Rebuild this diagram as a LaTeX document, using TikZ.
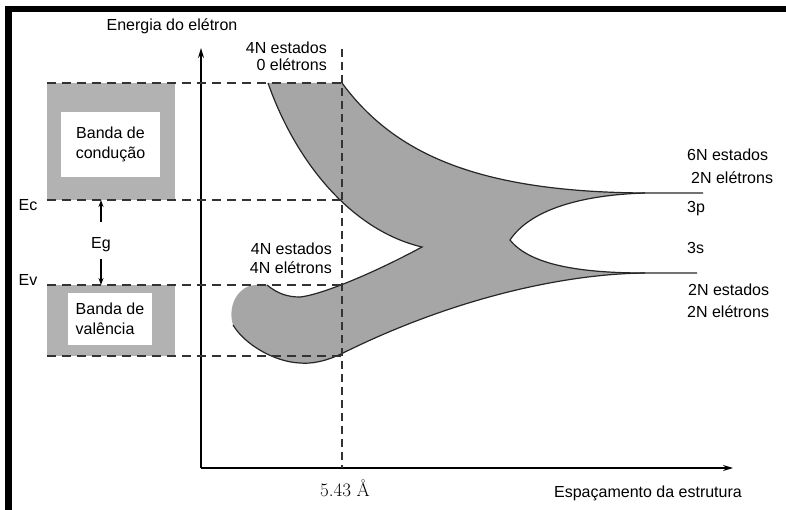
\documentclass[tikz,border=0pt]{standalone}
\usepackage{fontspec}
\newfontfamily\arial{Liberation Sans}
\usetikzlibrary{arrows.meta}

\begin{document}
\begin{tikzpicture}[x=1pt,y=-1pt]
   \tikzset{lbl/.style={font=\arial\fontsize{16}{20}\selectfont, inner sep=0pt, text height=11.5pt, text depth=3.5pt},
            guide/.style={draw=black!80, line width=1.5pt, dash pattern=on 9pt off 6pt},
            vguide/.style={draw=black!80, line width=1.5pt, dash pattern=on 8pt off 5pt},
            axis/.style={line width=1.4pt, -{Stealth[length=10pt,width=6pt]}},
            gaparrow/.style={line width=1.2pt, -{Stealth[length=7pt,width=5pt]}},
            boxgray/.style={fill=black!30, inner sep=0pt},
            boxtxt/.style={lbl, fill=white, text height=, text depth=},
            edge/.style={line width=1.2pt, black!85}};
   \useasboundingbox (0,0) rectangle (786,510);

%frame
\fill (5,6) rectangle (786,12.5);
\fill (5,6) rectangle (11.5,510);

%bandas do cristal
\node[boxgray, minimum width=128pt, minimum height=117pt] (cband) at (111,141.5) {};
\node[boxtxt, minimum width=99pt, minimum height=65pt, align=center] (ctext) at (110.5,144.5) {Banda de\\condução};
\node[boxgray, minimum width=128pt, minimum height=71pt] (vband) at (111,320.5) {};
\node[boxtxt, minimum width=84pt, minimum height=52pt, align=left] (vtext) at (110,319) {Banda de\\valência};

%curva das bandas
\fill[black!35] (268,83) -- (342,83)
   .. controls (395,155) and (480,192) .. (645,193)
   .. controls (580,195) and (530,210) .. (510,240)
   .. controls (530,265) and (580,273) .. (645,273)
   .. controls (560,274) and (450,300) .. (343,353)
   .. controls (325,362) and (310,364) .. (300,363)
   .. controls (275,362) and (245,345) .. (233,325)
   .. controls (229,313) and (232,296) .. (245,288)
   .. controls (252,284) and (258,285) .. (267,285)
   .. controls (278,294) and (288,297) .. (300,297)
   .. controls (320,295) and (370,275) .. (422,247)
   .. controls (350,230) and (295,160) .. (268,83) -- cycle;

\draw[edge] (268,83) .. controls (295,160) and (350,230) .. (422,247)
   .. controls (370,275) and (320,295) .. (300,297)
   .. controls (288,297) and (278,294) .. (267,285);
\draw[edge] (342,83) .. controls (395,155) and (480,192) .. (645,193) -- (703,193);
\draw[edge] (645,193) .. controls (580,195) and (530,210) .. (510,240)
   .. controls (530,265) and (580,273) .. (645,273) -- (697,273);
\draw[edge] (645,273) .. controls (560,274) and (450,300) .. (343,353)
   .. controls (325,362) and (310,364) .. (300,363)
   .. controls (275,362) and (245,345) .. (233,325);

%eixos
\coordinate (O) at (201,468);
\coordinate (ytop) at (201,48);
\coordinate (xend) at (733,468);
\draw[axis] (O) -- (ytop);
\draw[axis] (O) -- (xend);

%linhas tracejadas
\coordinate (vtop) at (342,49);
\coordinate (vbot) at (342,468);
\draw[vguide] (vtop) -- (vbot);
\draw[guide] (cband.north west) -- (cband.north west -| vtop);
\draw[guide] (cband.south west) -- (cband.south west -| vtop);
\draw[guide] (vband.north west) -- (vband.north west -| vtop);
\draw[guide] (vband.south west) -- (vband.south west -| vtop);

%Eg----------------------
\node[lbl] (ec) at (28,207) {Ec};
\node[lbl] (ev) at (28,282) {Ev};
\node[lbl] (eg) at (101,245) {Eg};
\coordinate (ecmark) at (101,200);
\coordinate (evmark) at (101,285);
\draw[gaparrow, shorten <=15pt] (eg) -- (ecmark);
\draw[gaparrow, shorten <=6pt] (eg) -- (evmark);

%textos
\node[lbl] (yname) at (172,27) {Energia do elétron};
\node[lbl] (xname) at (648,493) {Espaçamento da estrutura};
\node[font=\fontsize{19}{22}\selectfont, inner sep=0pt] (aval) at (345,488) {5.43 Å};

\node[lbl, anchor=east] (cstates) at (327,50) {4N estados};
\node[lbl, anchor=east] (celec) at (327,67) {0 elétrons};
\node[lbl, anchor=east] (vstates) at (332,251) {4N estados};
\node[lbl, anchor=east] (velec) at (332,270) {4N elétrons};

\node[lbl, anchor=west] (pstates) at (687,157) {6N estados};
\node[lbl, anchor=west] (pelec) at (691,180) {2N elétrons};
\node[lbl, anchor=west] (pname) at (687,209) {3p};
\node[lbl, anchor=west] (sname) at (687,250) {3s};
\node[lbl, anchor=west] (sstates) at (688,291) {2N estados};
\node[lbl, anchor=west] (selec) at (687,313) {2N elétrons};

\end{tikzpicture}
\end{document}
